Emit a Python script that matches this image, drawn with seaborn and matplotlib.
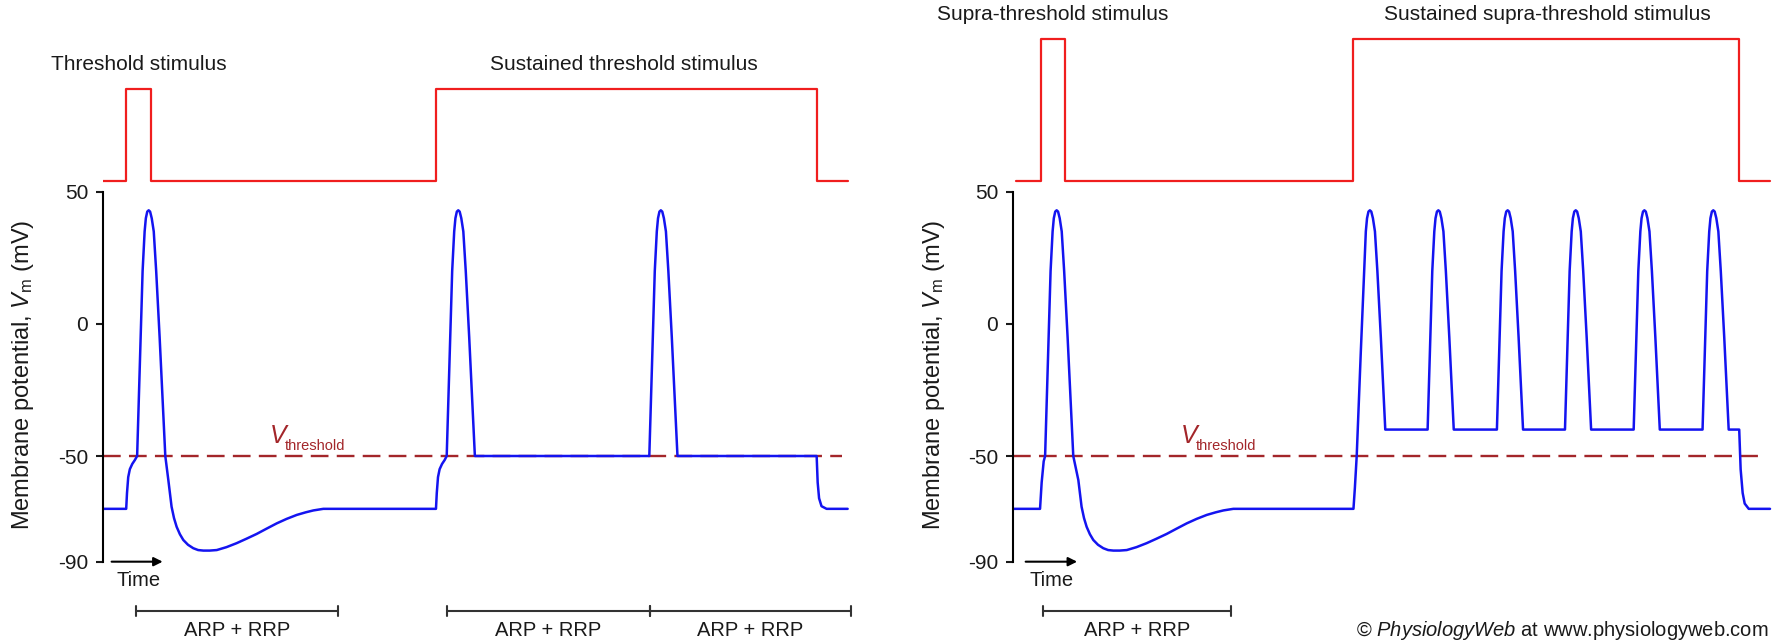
import matplotlib
matplotlib.use('Agg')
import matplotlib.pyplot as plt
import seaborn as sns

# ---- values (time in ms, potential in mV) ----
y_ticks = [-90, -50, 0, 50]
y_tick_labels = ['-90', '-50', '0', '50']
v_threshold = -50

# one action potential, time relative to its peak
spike_dt = [-0.57, -0.30, -0.20, -0.14, -0.07, 0.0, 0.07, 0.15, 0.25, 0.37, 0.54, 0.82]
spike_v = [-50, 20, 35, 40, 42.5, 43, 42.5, 40, 35, 20, -5, -50]
# spike riding on the -40 mV plateau during sustained supra-threshold stimulus
burst_dt = [-0.53, -0.30, -0.20, -0.14, -0.07, 0.0, 0.07, 0.15, 0.25, 0.37, 0.54, 0.76]
burst_v = [-40, 20, 35, 40, 42.5, 43, 42.5, 40, 35, 20, -5, -40]

# after-hyperpolarisation following a single spike
ahp_t = [3.21, 3.37, 3.49, 3.62, 3.78, 3.95, 4.18, 4.44, 4.68, 4.94, 5.25,
         5.60, 6.08, 6.58, 7.07, 7.57, 8.06, 8.56, 9.05, 9.55, 10.0, 10.37, 10.86]
ahp_v = [-59.1, -69.2, -73.5, -76.8, -79.6, -81.8, -83.6, -84.9, -85.6, -85.8, -85.8,
         -85.6, -84.5, -83.0, -81.3, -79.5, -77.5, -75.5, -73.8, -72.3, -71.3, -70.6, -70.0]

# slow depolarising foot of a threshold stimulus, relative to stimulus onset
foot_dt = [0.0, 0.04, 0.10, 0.18, 0.30, 0.43]
foot_v = [-70, -64, -58, -55, -53, -51.5]

# left panel: threshold stimulus
left_stim_t = [0, 1.13, 2.34, 16.42, 35.21, 36.74]
left_stim_on = [0, 1, 0, 1, 0, 0]
left_foot_onsets = [1.13, 16.42]
left_single_peak = 2.24
left_sustained_peaks = [17.52, 27.52]
left_offset_t = [35.21, 35.26, 35.33, 35.45, 35.70, 36.74]
left_offset_v = [-50, -60, -66, -69, -70, -70]
left_brackets = [(1.6, 11.6), (16.97, 26.97), (26.97, 36.92)]

# right panel: supra-threshold stimulus
right_stim_t = [0.15, 1.35, 2.55, 16.79, 35.83, 37.35]
right_stim_on = [0, 1, 0, 1, 0, 0]
right_foot_t = [1.32, 1.40, 1.50]
right_foot_v = [-70, -60, -52]
right_single_peak = 2.14
right_onset_t = [16.79, 16.86, 16.95, 17.15]
right_onset_v = [-70, -62, -50, -11]
right_burst_peaks = [17.60, 20.98, 24.40, 27.76, 31.15, 34.55]
right_offset_t = [35.83, 35.90, 36.00, 36.10, 36.30, 37.35]
right_offset_v = [-40, -55, -64, -68, -70, -70]
right_brackets = [(1.45, 10.75)]

# stimulus trace drawn above the voltage axis (baseline / pulse level)
stim_base = 54
left_stim_high = 89
right_stim_high = 108

BLUE = '#1414f0'
RED = '#f01e1e'
DARKRED = '#a3262a'
TXT = '#1a1a1a'

sns.set_theme(style='white')
plt.rcParams['font.family'] = ['Liberation Sans', 'DejaVu Sans']
plt.rcParams['mathtext.fontset'] = 'custom'
plt.rcParams['mathtext.rm'] = 'Liberation Sans'
plt.rcParams['mathtext.it'] = 'Liberation Sans:italic'

W, H = 1775, 640
px_ms = 20.26          # horizontal pixels per ms
px_mv = 2.642          # vertical pixels per mV
zero_px = 323.9        # pixel row of 0 mV
ylim = ((zero_px - H) / px_mv, zero_px / px_mv)


def build_left():
    t = [0]
    v = [-70]
    t += [left_foot_onsets[0] + d for d in foot_dt]; v += foot_v
    t += [left_single_peak + d for d in spike_dt]; v += spike_v
    t += ahp_t; v += ahp_v
    t += [left_foot_onsets[1] + d for d in foot_dt]; v += foot_v
    for p in left_sustained_peaks:
        t += [p + d for d in spike_dt]; v += spike_v
    t += left_offset_t; v += left_offset_v
    return t, v


def build_right():
    t = [0] + right_foot_t
    v = [-70] + right_foot_v
    t += [right_single_peak + d for d in spike_dt]; v += spike_v
    t += ahp_t; v += ahp_v
    t += right_onset_t; v += right_onset_v
    t += [right_burst_peaks[0] + d for d in burst_dt[2:]]; v += burst_v[2:]
    for p in right_burst_peaks[1:]:
        t += [p + d for d in burst_dt]; v += burst_v
    t += right_offset_t; v += right_offset_v
    return t, v


def draw_panel(ax, trace, stim_t, stim_on, stim_high, brackets, titles,
               thr_end, vlabel_x, arrow, time_x, vthr_x):
    t, v = trace
    stim_y = [stim_base + s * (stim_high - stim_base) for s in stim_on]
    sns.lineplot(x=stim_t, y=stim_y, ax=ax, color=RED, lw=1.6,
                 drawstyle='steps-post', estimator=None, sort=False)
    sns.lineplot(x=[0, thr_end], y=[v_threshold, v_threshold], ax=ax,
                 color=DARKRED, lw=1.7, linestyle=(0, (7.5, 3.5)),
                 estimator=None, sort=False)
    sns.lineplot(x=t, y=v, ax=ax, color=BLUE, lw=1.8,
                 estimator=None, sort=False)

    ax.set_xlim(0, ax.get_position().width * W / px_ms)
    ax.set_ylim(*ylim)
    for s in ['top', 'right', 'bottom']:
        ax.spines[s].set_visible(False)
    ax.spines['left'].set_bounds(-90, 50)
    ax.spines['left'].set_linewidth(1.5)
    ax.spines['left'].set_color('black')
    ax.set_xticks([])
    ax.set_yticks(y_ticks)
    ax.set_yticklabels(y_tick_labels)
    ax.tick_params(axis='y', left=True, length=4.8, width=1.5, pad=6,
                   labelsize=15, colors=TXT)
    ax.set_xlabel('')
    ax.set_ylabel('')
    ax.patch.set_alpha(0)

    ax.text(vlabel_x, -19.3, r'Membrane potential, $V_{\mathrm{m}}$ (mV)',
            rotation=90, ha='center', va='center', fontsize=17, color=TXT)
    ax.text(vthr_x, -45.1, 'V', style='italic', ha='left', va='baseline',
            fontsize=18, color=DARKRED)
    ax.text(vthr_x + 0.78, -47.6, 'threshold', ha='left', va='baseline',
            fontsize=10.5, color=DARKRED)

    for (x, y, s) in titles:
        ax.text(x, y, s, ha='center', va='center', fontsize=15, color=TXT)

    ax.annotate('', xy=(arrow[1], -90), xytext=(arrow[0], -90),
                arrowprops=dict(arrowstyle='-|>', color='black', lw=1.5,
                                mutation_scale=13, shrinkA=0, shrinkB=0))
    ax.text(time_x, -97.3, 'Time', ha='left', va='center', fontsize=14.5,
            color=TXT)

    for a, b in brackets:
        ax.plot([a, b], [-108.7, -108.7], color='#333333', lw=1.5,
                solid_capstyle='butt')
        for e in (a, b):
            ax.plot([e, e], [-106.8, -110.6], color='#333333', lw=1.5)
        ax.text((a + b) / 2, -115.9, 'ARP + RRP', ha='center', va='center',
                fontsize=14.5, color=TXT)


fig = plt.figure(figsize=(W / 100, H / 100), dpi=100)
ax_l = fig.add_axes([103.3 / W, 0, (880 - 103.3) / W, 1])
ax_r = fig.add_axes([1013.3 / W, 0, (W - 1013.3) / W, 1])

draw_panel(ax_l, build_left(), left_stim_t, left_stim_on, left_stim_high,
           left_brackets,
           [(1.74, 98.2, 'Threshold stimulus'),
            (25.7, 98.2, 'Sustained threshold stimulus')],
           thr_end=36.45, vlabel_x=-3.95, arrow=(0.41, 2.93), time_x=0.63,
           vthr_x=8.2)
draw_panel(ax_r, build_right(), right_stim_t, right_stim_on, right_stim_high,
           right_brackets,
           [(1.96, 117.0, 'Supra-threshold stimulus'),
            (26.35, 117.0, 'Sustained supra-threshold stimulus')],
           thr_end=37.0, vlabel_x=-3.91, arrow=(0.61, 3.15), time_x=0.81,
           vthr_x=8.25)

fig.text(1769 / W, 1 - 630 / H,
         r'© $\mathit{PhysiologyWeb}$ at www.physiologyweb.com',
         ha='right', va='center', fontsize=14.5, color=TXT)

fig.savefig('out.png', dpi=100, facecolor='white')
